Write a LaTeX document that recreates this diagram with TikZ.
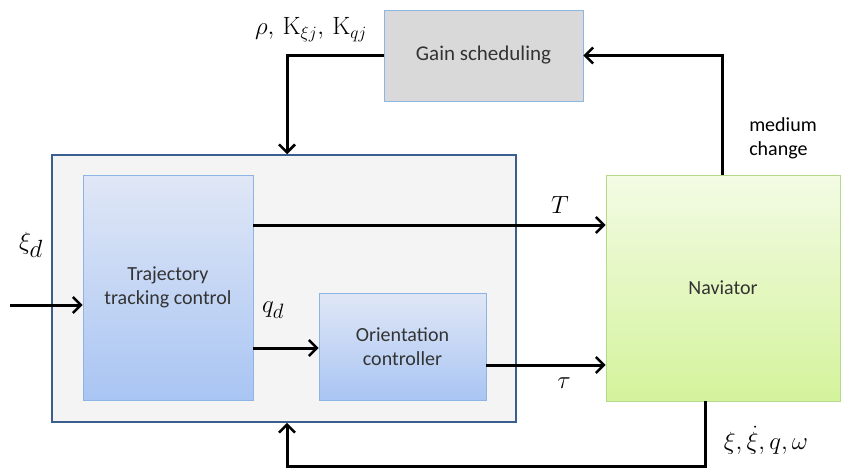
\documentclass[tikz,border=0pt]{standalone}
\usepackage{fontspec}
\setsansfont{Carlito}
\usepackage{amsmath}
\usetikzlibrary{arrows.meta,calc,positioning}
\definecolor{outerline}{HTML}{3A5F8F}
\definecolor{outerfill}{HTML}{F4F4F4}
\definecolor{blueline}{HTML}{8EB4E3}
\definecolor{bluetop}{HTML}{E0E7F6}
\definecolor{bluebot}{HTML}{A9C5F3}
\definecolor{greentop}{HTML}{F3FBE4}
\definecolor{greenbot}{HTML}{D4F39C}
\definecolor{greenline}{HTML}{B5D98A}
\definecolor{gainfill}{HTML}{D9D9D9}

\begin{document}
\begin{tikzpicture}[x=1pt,y=-1pt,
		block/.style={rectangle, inner sep=0pt, align=center, text=black!80,
			font=\sffamily\fontsize{20}{24}\selectfont},
		ctrl/.style={block, draw=blueline, line width=0.7pt, top color=bluetop, bottom color=bluebot},
		sig/.style={line width=3pt, -{Straight Barb[length=8pt,width=16pt,line width=2.5pt]}},
		mathlabel/.style={font=\fontsize{30}{34}\selectfont}
		]
	
		\useasboundingbox (0,0) rectangle (842,471);
	
		% --- blocs ---
		\node[rectangle, draw=outerline, line width=1.5pt, fill=outerfill,
			minimum width=464pt, minimum height=267pt] (outer) at (284,288.5) {};
		\node[ctrl, minimum width=170pt, minimum height=225pt] (traj) at (168,287.5) {Trajectory\\tracking control};
		\node[ctrl, minimum width=167pt, minimum height=107pt] (ori) at (402.5,346.5) {Orientation\\controller};
		\node[block, draw=greenline, line width=0.7pt, top color=greentop, bottom color=greenbot,
			minimum width=234pt, minimum height=226pt] (nav) at (723,288) {Naviator};
		\node[block, draw=blueline, line width=0.7pt, fill=gainfill, font=\sffamily\fontsize{21}{25}\selectfont,
			minimum width=199pt, minimum height=91pt] (gain) at (483.5,55.5) {Gain scheduling};
	
		% --- points ---
		\coordinate (in) at (10,305);
		\coordinate (Tlvl) at (560,225);
		\coordinate (qlvl) at (300,348);
		\coordinate (taulvl) at (560,365);
		\coordinate (fbx) at (705,466);
		\coordinate (gx) at (287,56);
		\coordinate (medx) at (722,56);
	
		% --- signaux ---
		\draw[sig] (in) -- (in -| traj.west);
		\draw[sig] (traj.east |- Tlvl) -- (nav.west |- Tlvl);
		\draw[sig] (traj.east |- qlvl) -- (ori.west |- qlvl);
		\draw[sig] (ori.east |- taulvl) -- (nav.west |- taulvl);
		\draw[sig] (nav.south -| fbx) -- (fbx) -| (outer.south -| gx);
		\draw[sig] (nav.north -| medx) |- (gain.east);
		\draw[sig] (gain.west) -| (outer.north -| gx);
	
		% --- etiquettes ---
		\node[mathlabel, font=\fontsize{34}{38}\selectfont] (xid) at (31,245) {$\xi_d$};
		\node[mathlabel] (T) at (560,205) {$T$};
		\node[mathlabel] (qd) at (273,310) {$q_d$};
		\node[mathlabel] (tau) at (564,383) {$\tau$};
		\node[mathlabel, font=\fontsize{28}{32}\selectfont] (state) at (766,440) {$\xi,\dot{\xi},q,\omega$};
		\node[mathlabel, font=\fontsize{25}{28}\selectfont] (gains) at (311,30) {$\rho,\,\mathrm{K}_{\xi j},\,\mathrm{K}_{qj}$};
		\node[align=left, font=\sffamily\fontsize{20}{24}\selectfont] (medium) at (783,138) {medium\\change};
	
	\end{tikzpicture}
\end{document}
